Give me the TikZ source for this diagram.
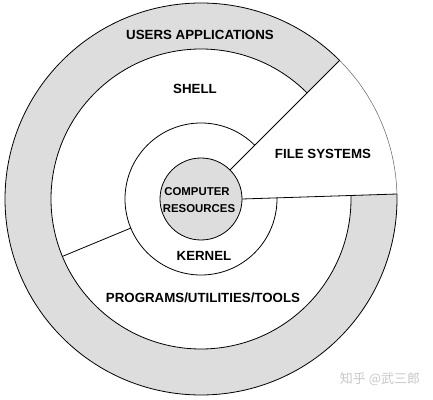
\documentclass[tikz,border=0pt]{standalone}
\usepackage{fontspec}
\setmainfont{Liberation Sans}
\newfontfamily\cjk{Noto Sans CJK SC}
\usetikzlibrary{calc}
\definecolor{ringgray}{RGB}{221,221,221}
\definecolor{wmgray}{RGB}{200,200,200}
\begin{document}
\begin{tikzpicture}[x=1pt,y=1pt,
  lbl/.style={font=\bfseries\fontsize{13.3}{15}\selectfont, inner sep=0pt, text depth=0pt},
  small/.style={font=\bfseries\fontsize{11.4}{13}\selectfont, inner sep=0pt, text depth=0pt},
  ln/.style={line width=0.8pt, draw=black}]
\useasboundingbox (0,0) rectangle (433,399);
\fill[white] (0,0) rectangle (433,399);
\coordinate (C) at (201,200);
\coordinate (up1) at ($(C)+(45:41)$);
\coordinate (up2) at ($(C)+(45:196)$);
\coordinate (lo1) at ($(C)+(0:41)$);
\coordinate (lo2) at ($(C)+(1.46:196)$);
\coordinate (lf1) at ($(C)+(202.5:76)$);
\coordinate (lf2) at ($(C)+(202.5:150)$);
% gray outer ring
\fill[ringgray, even odd rule] (C) circle[radius=196] (C) circle[radius=150];
% file systems wedge
\fill[white] (up1) -- (up2) arc[start angle=45, end angle=1.46, radius=196] -- (lo1) arc[start angle=0, end angle=45, radius=41] -- cycle;
% outer circle
\draw[line width=0.5pt, draw=black!60] (lo2) arc[start angle=1.46, end angle=45, radius=196];
\draw[ln] (up2) arc[start angle=45, end angle=361.46, radius=196];
% shell circle
\draw[ln] ($(C)+(45:150)$) arc[start angle=45, end angle=361.3, radius=150];
% kernel circle
\draw[ln] ($(C)+(45:76)$) arc[start angle=45, end angle=360.85, radius=76];
% core
\draw[ln, fill=ringgray] (C) circle[radius=41];
% dividers
\draw[ln] (up1) -- (up2);
\draw[ln] (lo1) -- (lo2);
\draw[ln] (lf1) -- (lf2);
% labels
\node[lbl] (users) at (200,364) {USERS APPLICATIONS};
\node[lbl] (shell) at (195,310) {SHELL};
\node[lbl] (files) at (323,245) {FILE SYSTEMS};
\node[small] (comp) at (197,207) {COMPUTER};
\node[small] (res) at (199,190) {RESOURCES};
\node[lbl] (kernel) at (204,143) {KERNEL};
\node[lbl] (prog) at (203,101) {PROGRAMS/UTILITIES/TOOLS};
\node[font=\cjk\fontsize{13}{15}\selectfont, text=wmgray, inner sep=0pt] (wm) at (380,20) {知乎 @武三郎};
\end{tikzpicture}
\end{document}
